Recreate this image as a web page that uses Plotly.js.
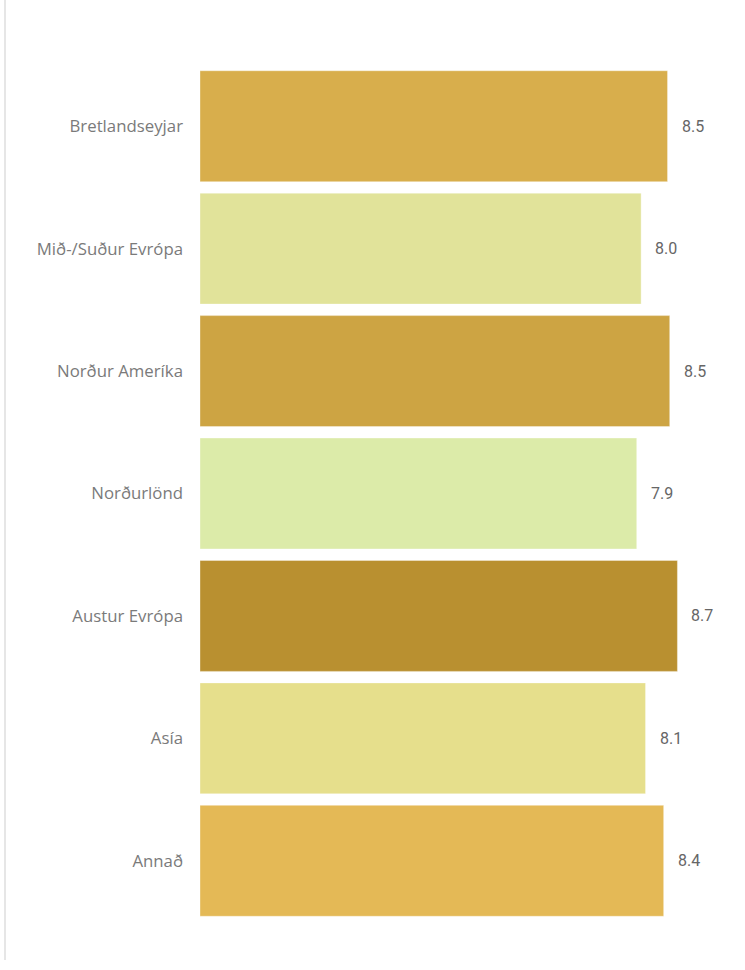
<!DOCTYPE html>
<html>
<head>
<meta charset="utf-8">
<script src="https://cdn.plot.ly/plotly-3.0.1.min.js"></script>
<style>
html,body{margin:0;padding:0;background:#fff;}
#chart{width:745px;height:970px;}
</style>
</head>
<body>
<div id="chart"></div>
<script>
const categories = ["Bretlandseyjar", "Mið-/Suður Evrópa", "Norður Ameríka", "Norðurlönd", "Austur Evrópa", "Asía", "Annað"];
const values = [8.50, 8.02, 8.54, 7.94, 8.68, 8.10, 8.43];
const barColors = ["#D8AE4C", "#E1E39A", "#CDA443", "#DCEBA9", "#B99030", "#E6DF8C", "#E4B956"];

const trace = {
  type: "bar",
  orientation: "h",
  x: values,
  y: categories,
  marker: {color: barColors, line: {color: "rgba(255,255,255,0.35)", width: 1}},
  hoverinfo: "none"
};

const annotations = values.map((v, i) => ({
  x: v, y: categories[i], xref: "x", yref: "y",
  text: v.toFixed(1), showarrow: false,
  xanchor: "left", xshift: 12,
  font: {family: "Roboto, sans-serif", size: 16, color: "#666666"}
}));

const layout = {
  width: 745, height: 970,
  margin: {l: 200, r: 20, t: 65, b: 48},
  paper_bgcolor: "#ffffff", plot_bgcolor: "#ffffff",
  showlegend: false,
  bargap: 0.094,
  xaxis: {range: [0, 9.545], visible: false, fixedrange: true},
  yaxis: {
    type: "category", autorange: "reversed",
    showgrid: false, zeroline: false, showline: false,
    ticks: "", ticklabelstandoff: 16,
    tickfont: {family: "'Open Sans', sans-serif", size: 16.8, color: "#7a7a7a"}
  },
  annotations: annotations,
  shapes: [{
    type: "line", xref: "paper", yref: "paper",
    x0: -195/525, x1: -195/525, y0: -38/857, y1: 65/857 + 1,
    line: {color: "#e6e6e6", width: 2}
  }]
};

Plotly.newPlot("chart", [trace], layout, {displayModeBar: false, staticPlot: true});
</script>
</body>
</html>
